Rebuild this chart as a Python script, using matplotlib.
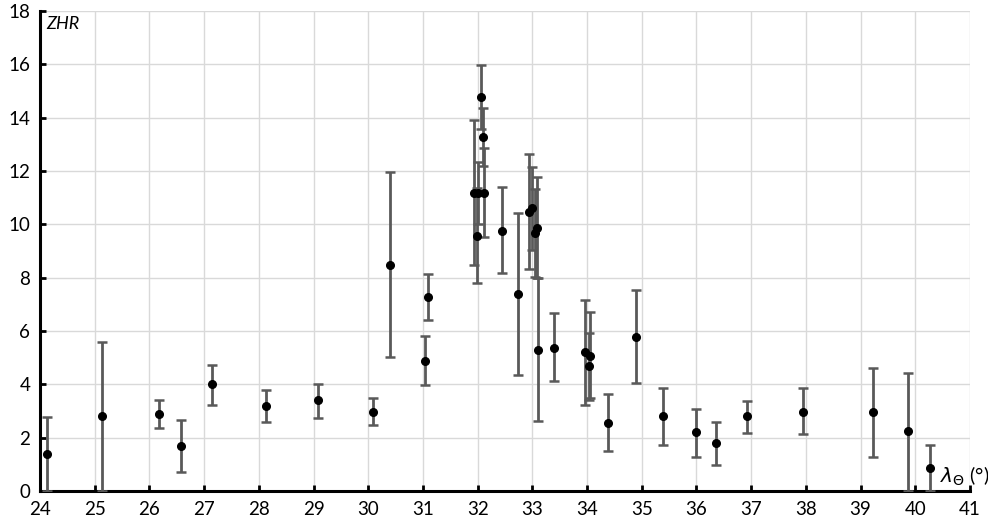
import numpy as np
import matplotlib.pyplot as plt

# solar longitude (deg), ZHR, lower / upper error
lam = [24.13, 25.14, 26.18, 26.57, 27.14, 28.14, 29.09, 30.09, 30.39, 31.03, 31.10,
       31.93, 31.98, 32.00, 32.06, 32.10, 32.12, 32.45, 32.74,
       32.94, 33.00, 33.04, 33.08, 33.11, 33.40,
       33.96, 34.03, 34.06, 34.38, 34.89, 35.38, 36.00, 36.35, 36.93, 37.94,
       39.22, 39.87, 40.27]
zhr = [1.37, 2.80, 2.87, 1.67, 4.00, 3.17, 3.40, 2.98, 8.49, 4.89, 7.29,
       11.19, 9.58, 11.19, 14.79, 13.28, 11.19, 9.76, 7.37,
       10.46, 10.60, 9.68, 9.88, 5.27, 5.38,
       5.21, 4.67, 5.08, 2.56, 5.79, 2.80, 2.20, 1.79, 2.80, 2.98,
       2.95, 2.24, 0.85]
err_lo = [1.37, 2.80, 0.50, 0.96, 0.78, 0.57, 0.65, 0.51, 3.47, 0.92, 0.87,
          2.73, 1.78, 1.19, 1.22, 1.11, 1.67, 1.58, 3.01,
          2.15, 1.57, 1.65, 1.88, 2.64, 1.26,
          1.98, 1.26, 1.60, 1.05, 1.73, 1.06, 0.91, 0.80, 0.63, 0.85,
          1.69, 2.24, 0.85]
err_hi = [1.41, 2.79, 0.55, 1.00, 0.74, 0.63, 0.62, 0.51, 3.47, 0.93, 0.85,
          2.71, 1.79, 1.14, 1.17, 1.09, 1.67, 1.64, 3.05,
          2.17, 1.55, 1.66, 1.89, 2.70, 1.30,
          1.97, 1.26, 1.64, 1.07, 1.74, 1.06, 0.88, 0.81, 0.58, 0.89,
          1.66, 2.19, 0.88]

plt.rcParams['font.family'] = ['Lato', 'DejaVu Sans']

fig = plt.figure(figsize=(9.88, 5.28), dpi=100)
ax = fig.add_axes([40 / 988, 37 / 528, 930 / 988, 480 / 528])

ax.errorbar(lam, zhr, yerr=[err_lo, err_hi], fmt='o', color='black', markersize=5.5,
            ecolor='#595959', elinewidth=2, capsize=3.5, capthick=1.8, zorder=3)

ax.set_xlim(24, 41)
ax.set_ylim(0, 18)
ax.set_xticks(range(24, 42))
ax.set_yticks(range(0, 19, 2))
ax.grid(True, color='#d9d9d9', linewidth=1)
ax.set_axisbelow(True)

for s in ['top', 'right']:
    ax.spines[s].set_visible(False)
for s in ['left', 'bottom']:
    ax.spines[s].set_linewidth(2.2)
    ax.spines[s].set_color('black')

ax.tick_params(direction='in', length=4, width=2, labelsize=13.5, pad=7)

ax.text(0.007, 0.99, 'ZHR', transform=ax.transAxes, ha='left', va='top',
        fontsize=13, style='italic')
ax.text(40.45, 0.1, r'$\mathit{\lambda}_{\mathit{\Theta}}$ (°)', ha='left', va='bottom',
        fontsize=14.5)

fig.savefig('out.png', dpi=100)
